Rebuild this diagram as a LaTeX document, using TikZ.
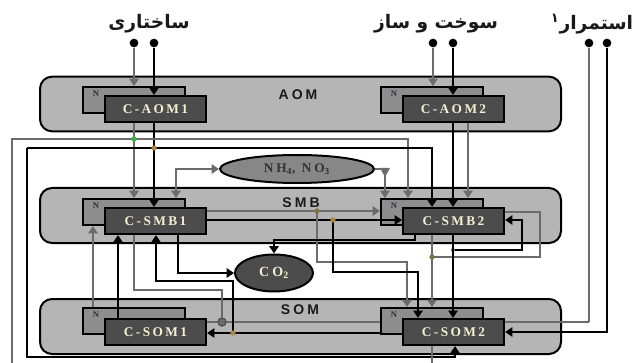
\documentclass[tikz,border=0pt]{standalone}
\usepackage{fontspec}
\setmainfont{Liberation Serif}
\newfontfamily\arabicfont[Script=Arabic]{DejaVu Sans}
\newfontfamily\lsans{Liberation Sans}
\TeXXeTstate=1
\usetikzlibrary{arrows.meta,shapes.geometric}
\definecolor{bandc}{HTML}{B5B5B5}
\definecolor{nboxc}{HTML}{8E8E8E}
\definecolor{frontc}{HTML}{4C4C4C}
\definecolor{glinec}{HTML}{6B6B6B}
\definecolor{txtc}{HTML}{F2EFD2}
\definecolor{nlabc}{HTML}{2A2A48}
\definecolor{greendot}{HTML}{3CB43C}
\definecolor{olivedot}{HTML}{7A7448}
\definecolor{ydotc}{HTML}{A88A40}
\pgfdeclarelayer{bg}
\pgfsetlayers{bg,main}
\begin{document}
\begin{tikzpicture}[x=0.75pt,y=-0.75pt,
  band/.style={draw=black, line width=1.5pt, fill=bandc, rounded corners=9pt, inner sep=0, minimum width=390.75pt, minimum height=41pt},
  nbox/.style={draw=black, line width=1.5pt, fill=nboxc, minimum width=76.5pt, minimum height=19.5pt, inner sep=0},
  frontbox/.style={draw=black, line width=1.6pt, fill=frontc, minimum width=75.75pt, minimum height=19.5pt, inner sep=0, text=txtc, font=\bfseries\fontsize{10}{11}\selectfont\addfontfeature{LetterSpace=18}},
  nlab/.style={text=nlabc, font=\bfseries\fontsize{6.5}{7}\selectfont, inner sep=0},
  bandlab/.style={text=black!90, font=\lsans\bfseries\fontsize{10.5}{11}\selectfont\addfontfeature{LetterSpace=22}, inner sep=0},
  toplab/.style={text=black!90, font=\arabicfont\bfseries\fontsize{14}{16}\selectfont, inner sep=0},
  tdot/.style={circle, fill=black, minimum size=6.5pt, inner sep=0},
  jdot/.style={circle, minimum size=3pt, inner sep=0},
  gline/.style={draw=glinec, line width=2pt},
  bline/.style={draw=black, line width=2pt},
  garrow/.style={gline, -{Triangle[length=5.5pt,width=7pt]}},
  barrow/.style={bline, -{Triangle[length=5.5pt,width=7pt]}},
  garrowtwo/.style={gline, {Triangle[length=5.5pt,width=7pt]}-{Triangle[length=5.5pt,width=7pt]}},
]
\useasboundingbox (0,0) rectangle (634,363);

% ---- boxes (main layer)
\node[nbox] (naom1) at (134,100) {};
\node[frontbox] (caom1) at (155.5,109) {C-AOM1};
\node[nbox] (naom2) at (432,100) {};
\node[frontbox] (caom2) at (453.5,109) {C-AOM2};
\node[nbox] (nsmb1) at (134,212) {};
\node[frontbox] (csmb1) at (155.5,221) {C-SMB1};
\node[nbox] (nsmb2) at (432,212) {};
\node[frontbox] (csmb2) at (453.5,221) {C-SMB2};
\node[nbox] (nsom1) at (134,321) {};
\node[frontbox] (csom1) at (155.5,332) {C-SOM1};
\node[nbox] (nsom2) at (432,321) {};
\node[frontbox] (csom2) at (453.5,332) {C-SOM2};

\foreach \b in {naom1,naom2,nsmb1,nsmb2,nsom1,nsom2}
  \node[nlab] at ([shift={(14,8)}]\b.north west) {N};

% ellipses
\node[ellipse, draw=black, line width=1.5pt, fill=nboxc!95!black, minimum width=115.5pt, minimum height=21pt, inner sep=0,
      text=black!80, font=\bfseries\fontsize{10}{11}\selectfont\addfontfeature{LetterSpace=22}] (nh) at (297,169) {NH\textsubscript{4}, NO\textsubscript{3}};
\node[ellipse, draw=black, line width=1.5pt, fill=frontc, minimum width=58.5pt, minimum height=27.75pt, inner sep=0,
      text=txtc, font=\bfseries\fontsize{10.5}{11}\selectfont\addfontfeature{LetterSpace=22}] (co2) at (274,273) {CO\textsubscript{2}};

% junction dots
\node[jdot, fill=greendot] (gj) at (134,139) {};
\node[jdot, fill=ydotc] (bj) at (154,148) {};
\node[jdot, fill=olivedot] (j1) at (317,211) {};
\node[jdot, fill=ydotc] (j2) at (333,220) {};
\node[jdot, fill=olivedot] (j3) at (432,257) {};
\node[jdot, fill=ydotc!70!black] (j4) at (453,250) {};
\node[jdot, fill=ydotc] (j5) at (233,333) {};
\node[circle, draw=black!70, line width=0.8pt, fill=glinec, minimum size=6pt, inner sep=0] (gc) at (222,322) {};

% terminal dots
\node[tdot] (d1) at (134,43) {};
\node[tdot] (d2) at (154,43) {};
\node[tdot] (d3) at (433,43) {};
\node[tdot] (d4) at (453,43) {};
\node[tdot] (d5) at (589,43) {};
\node[tdot] (d6) at (607,43) {};

% labels
\node[toplab] (l1) at (149,24) {\beginR ساختاری\endR};
\node[toplab] (l2) at (436,24) {\beginR سوخت و ساز\endR};
\node[toplab] (l3) at (592,24) {\beginR استمرار\textsuperscript{۱}\endR};

% helper coordinates
\coordinate (rg) at (589,322);
\coordinate (gbot) at (12,363);
\coordinate (gr) at (408,139);
\coordinate (bl) at (27,148);
\coordinate (br) at (432,148);
\coordinate (bb) at (455,357);
\coordinate (x176) at (176,0);
\coordinate (nr) at (385,169);
\coordinate (y211) at (0,211);
\coordinate (y220) at (0,220);
\coordinate (k1) at (407,262);
\coordinate (k2) at (418,272);
\coordinate (x432) at (432,0);
\coordinate (k3) at (540,212);
\coordinate (k4) at (522,220);
\coordinate (k5) at (415,240);
\coordinate (k6) at (178,273);
\coordinate (x93) at (93,0);
\coordinate (x118) at (118,0);
\coordinate (k7) at (222,290);
\coordinate (k8) at (156,281);
\coordinate (k9) at (607,332);
\coordinate (x468) at (468,0);
\coordinate (sb) at (432,363);

% ---- background: bands and lines behind boxes
\begin{pgfonlayer}{bg}
\node[band] (aom) at (300.5,104) {};
\node[band, minimum height=41.25pt] (smb) at (300.5,215.5) {};
\node[band, minimum height=41.25pt] (som) at (300.5,326.5) {};
\draw[gline] (csom1.east |- gc) -- (rg);
\draw[barrow] (nsom2.west |- j5) -- (csom1.east |- j5);
\end{pgfonlayer}

\node[bandlab] at (298,95) {AOM};
\node[bandlab] at (301,203) {SMB};
\node[bandlab] at (300,310) {SOM};

% ---- connectors
\draw[garrow] (d1) -- (d1 |- naom1.north);
\draw[barrow] (d2) -- (d2 |- caom1.north);
\draw[garrow] (d3) -- (d3 |- naom2.north);
\draw[barrow] (d4) -- (d4 |- caom2.north);
\draw[gline] (d5) -- (rg);
\draw[barrow] (d6) -- (k9) -- (k9 -| csom2.east);

\draw[garrow] (d1 |- caom1.south) -- (d1 |- nsmb1.north);
\draw[barrow] (d2 |- caom1.south) -- (d2 |- csmb1.north);
\draw[barrow] (d4 |- caom2.south) -- (d4 |- csmb2.north);
\draw[garrow] (x468 |- caom2.south) -- (x468 |- nsmb2.north);

\draw[garrow] (gbot) |- (gr) -- (gr |- nsmb2.north);
\draw[barrow] (bl) -- (br) -- (br |- csmb2.north);
\draw[barrow] (bl) |- (bb) -- (bb |- csom2.south);

\draw[garrowtwo] (x176 |- nsmb1.north) |- (nh.west);
\draw[garrow] (nh.east) -- (nr) -- (nr |- nsmb2.north);
\fill[glinec] (380,168) -- (390,168) -- (385,177) -- cycle;

\draw[garrow] (csmb1.east |- y211) -- (nsmb2.west |- y211);
\draw[barrow] (csmb1.east |- y220) -- (csmb2.west |- y220);
\draw[garrow] (j1) |- (k1) -- (k1 |- nsom2.north);
\draw[barrow] (j2) |- (k2) -- (k2 |- csom2.north);
\draw[garrow] (x432 |- csmb2.south) -- (x432 |- nsom2.north);
\draw[gline] (csmb2.east |- k3) -- (k3) |- (j3);
\draw[barrow] (d4 |- csmb2.south) -- (d4 |- csom2.north);
\draw[barrow] (j4) -| (k4) -- (k4 -| csmb2.east);
\draw[barrow] (k5 |- csmb2.south) -- (k5) -| (co2.north);
\draw[barrow] (k6 |- csmb1.south) |- (co2.west);
\draw[garrow] (x93 |- nsom1.north) -- (x93 |- nsmb1.south);
\draw[barrow] (x118 |- csom1.north) -- (x118 |- csmb1.south);
\draw[gline] (d1 |- csmb1.south) |- (k7) -- (gc);
\draw[barrow] (j5) |- (k8) -- (k8 |- csmb1.south);
\draw[gline] (x432 |- csom2.south) -- (sb);

% redraw junction dots on top
\foreach \n/\c in {gj/greendot,bj/ydotc,j1/olivedot,j2/ydotc,j3/olivedot,j5/ydotc}
  \fill[\c] (\n) circle (2pt);
\fill[glinec, draw=black!70, line width=0.8pt] (gc) circle (3pt);
\end{tikzpicture}
\end{document}
